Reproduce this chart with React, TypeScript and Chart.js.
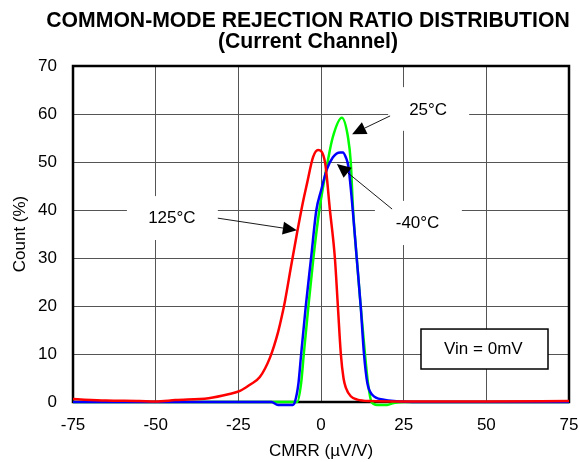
import React, { useEffect, useRef } from 'react';
import { Chart, registerables } from 'chart.js';

Chart.register(...registerables);

const TITLE_LINES = ['COMMON-MODE REJECTION RATIO DISTRIBUTION', '(Current Channel)'];
const X_TITLE = 'CMRR (µV/V)';
const Y_TITLE = 'Count (%)';
const X_TICKS = [-75, -50, -25, 0, 25, 50, 75];
const Y_TICKS = [0, 10, 20, 30, 40, 50, 60, 70];

// 125°C (red)
const T125_X = [-75, -65, -55, -50, -44, -34, -28, -24.5, -21.5, -18.5, -15.4, -13, -11.8, -10.9, -9, -7.3, -5.5, -4.2, -2.4, -0.9, 1.2, 2.7, 4.2, 5.1, 6.0, 6.8, 7.5, 9, 11, 15, 25, 50, 75];
const T125_Y = [0.6, 0.3, 0.2, 0.1, 0.4, 0.8, 1.6, 2.3, 3.6, 5.2, 9.3, 14.5, 18, 21, 28.5, 35, 41.5, 45.6, 51, 52.5, 50, 40, 30, 20, 10, 5, 3, 1.2, 0.5, 0.2, 0.1, 0.1, 0.2];

// 25°C (green)
const T25_X = [-75, -20, -10, -7.2, -6.0, -5.2, -3.8, -2.3, -0.5, 2.0, 3.5, 6.3, 8.2, 9.0, 9.7, 10.8, 12.0, 13.3, 14.2, 15.3, 17, 20, 22, 25, 75];
const T25_Y = [0, 0, 0, 0, 4, 10, 20, 30, 40, 50, 55, 59.2, 55, 50, 40, 30, 20, 10, 4, 0, -0.6, -0.6, -0.2, 0, 0];

// -40°C (blue)
const TM40_X = [-75, -30, -15, -13, -10, -8.5, -7.9, -6.8, -6.0, -4.6, -3.0, -1.4, 0, 1.8, 3.6, 5.8, 6.6, 7.5, 8.3, 9.6, 10.8, 12.0, 13.0, 14.0, 15.5, 19, 22, 30, 75];
const TM40_Y = [0, 0, 0, -0.6, -0.6, -0.6, 0, 4, 10, 20, 30, 40, 44, 48.5, 51, 52, 52, 51, 49, 40, 30, 20, 10, 4, 1.5, 0.5, 0.2, 0, 0];

const SERIES_NAMES = ['125°C', '-40°C', '25°C'];

// annotation placement in data units
const LABELS = [
  { text: '25°C', x: 32.4, y: 60.8, box: [20.3, 44.8, 56.5, 65.6] },
  { text: '-40°C', x: 29.2, y: 37.3, box: [16.3, 42.6, 32.7, 41.9] },
  { text: '125°C', x: -45.1, y: 38.2, box: [-58.7, -31.2, 33.75, 42.9] },
];
const ARROWS = [
  { from: [20.9, 59.6], to: [9.4, 55.8] },
  { from: [21.5, 40.2], to: [4.8, 49.6] },
  { from: [-31.2, 38.3], to: [-7.3, 35.8] },
];
const NOTE = { text: 'Vin = 0mV', x: 49.1, y: 10.9, box: [30.24, 68.65, 6.875, 15.2] };

const pts = (xs: number[], ys: number[]) => xs.map((x, i) => ({ x, y: ys[i] }));

const FONT = 'Arial, "Liberation Sans", Helvetica, sans-serif';

export default function App() {
  const ref = useRef<HTMLCanvasElement | null>(null);

  useEffect(() => {
    if (!ref.current) return;

    const annotPlugin = {
      id: 'annot',
      beforeDatasetsDraw(chart: any) {
        const { ctx, chartArea: a, scales } = chart;
        const xs = scales.x, ys = scales.y;
        ctx.save();
        ctx.fillStyle = '#ffffff';
        for (const l of LABELS) {
          const x0 = xs.getPixelForValue(l.box[0]);
          const x1 = xs.getPixelForValue(l.box[1]);
          const y0 = ys.getPixelForValue(l.box[3]);
          const y1 = ys.getPixelForValue(l.box[2]);
          ctx.fillRect(x0, y0, x1 - x0, y1 - y0);
        }
        {
          const x0 = xs.getPixelForValue(NOTE.box[0]);
          const x1 = xs.getPixelForValue(NOTE.box[1]);
          const y0 = ys.getPixelForValue(NOTE.box[3]);
          const y1 = ys.getPixelForValue(NOTE.box[2]);
          ctx.fillRect(x0, y0, x1 - x0, y1 - y0);
          ctx.strokeStyle = '#000';
          ctx.lineWidth = 1.5;
          ctx.strokeRect(x0, y0, x1 - x0, y1 - y0);
          ctx.fillStyle = '#000';
          ctx.font = `17px ${FONT}`;
          ctx.textAlign = 'center';
          ctx.textBaseline = 'middle';
          ctx.fillText(NOTE.text, xs.getPixelForValue(NOTE.x), ys.getPixelForValue(NOTE.y));
        }
        ctx.strokeStyle = '#000';
        ctx.lineWidth = 2.5;
        ctx.strokeRect(a.left, a.top, a.right - a.left, a.bottom - a.top);
        ctx.restore();
      },
      afterDatasetsDraw(chart: any) {
        const { ctx, scales } = chart;
        const xs = scales.x, ys = scales.y;
        ctx.save();
        ctx.fillStyle = '#000';
        ctx.font = `17px ${FONT}`;
        ctx.textAlign = 'center';
        ctx.textBaseline = 'middle';
        for (const l of LABELS) {
          ctx.fillText(l.text, xs.getPixelForValue(l.x), ys.getPixelForValue(l.y));
        }
        for (const ar of ARROWS) {
          const sx = xs.getPixelForValue(ar.from[0]);
          const sy = ys.getPixelForValue(ar.from[1]);
          const tx = xs.getPixelForValue(ar.to[0]);
          const ty = ys.getPixelForValue(ar.to[1]);
          const ang = Math.atan2(ty - sy, tx - sx);
          const len = 14, half = 6.5;
          const bx = tx - len * Math.cos(ang);
          const by = ty - len * Math.sin(ang);
          ctx.strokeStyle = '#000';
          ctx.lineWidth = 0.9;
          ctx.beginPath();
          ctx.moveTo(sx, sy);
          ctx.lineTo(bx, by);
          ctx.stroke();
          ctx.beginPath();
          ctx.moveTo(tx, ty);
          ctx.lineTo(bx + half * Math.sin(ang), by - half * Math.cos(ang));
          ctx.lineTo(bx - half * Math.sin(ang), by + half * Math.cos(ang));
          ctx.closePath();
          ctx.fill();
        }
        ctx.font = `bold 21.2px ${FONT}`;
        ctx.textBaseline = 'alphabetic';
        ctx.fillText(TITLE_LINES[0], 308, 27);
        ctx.fillText(TITLE_LINES[1], 308, 48);
        ctx.restore();
      },
    };

    const chart = new Chart(ref.current, {
      type: 'line',
      data: {
        datasets: [
          { label: SERIES_NAMES[0], data: pts(T125_X, T125_Y), borderColor: '#ff0000' },
          { label: SERIES_NAMES[1], data: pts(TM40_X, TM40_Y), borderColor: '#0000ff' },
          { label: SERIES_NAMES[2], data: pts(T25_X, T25_Y), borderColor: '#00ff00' },
        ].map((d) => ({
          ...d,
          borderWidth: 2.5,
          pointRadius: 0,
          fill: false,
          cubicInterpolationMode: 'monotone' as const,
          clip: 6,
        })),
      },
      options: {
        responsive: false,
        animation: false,
        layout: { padding: { top: 66, right: 11, left: 0, bottom: 0 } },
        plugins: { legend: { display: false }, title: { display: false }, tooltip: { enabled: false } },
        scales: {
          x: {
            type: 'linear',
            min: -75,
            max: 75,
            afterFit: (s: any) => { s.height = 60; s.paddingLeft = 0; s.paddingRight = 0; },
            afterBuildTicks: (s: any) => { s.ticks = X_TICKS.map((v) => ({ value: v })); },
            ticks: { color: '#000', font: { family: FONT, size: 17 }, padding: 13, maxRotation: 0, autoSkip: false },
            grid: { color: '#555', lineWidth: 1, drawTicks: false },
            border: { display: false },
            title: { display: true, text: X_TITLE, color: '#000', font: { family: FONT, size: 17 }, padding: { top: 0, bottom: 0 } },
          },
          y: {
            type: 'linear',
            min: 0,
            max: 70,
            afterFit: (s: any) => { s.width = 73; s.paddingTop = 0; s.paddingBottom = 0; },
            afterBuildTicks: (s: any) => { s.ticks = Y_TICKS.map((v) => ({ value: v })); },
            ticks: { color: '#000', font: { family: FONT, size: 17 }, padding: 16 },
            grid: { color: '#555', lineWidth: 1, drawTicks: false },
            border: { display: false },
            title: { display: true, text: Y_TITLE, color: '#000', font: { family: FONT, size: 17 }, padding: { top: 10, bottom: 0 } },
          },
        },
      },
      plugins: [annotPlugin],
    });
    return () => chart.destroy();
  }, []);

  return (
    <div style={{ position: 'fixed', left: 0, top: 0, width: 580, height: 462, background: '#fff' }}>
      <canvas ref={ref} width={580} height={462} style={{ display: 'block' }} />
    </div>
  );
}
